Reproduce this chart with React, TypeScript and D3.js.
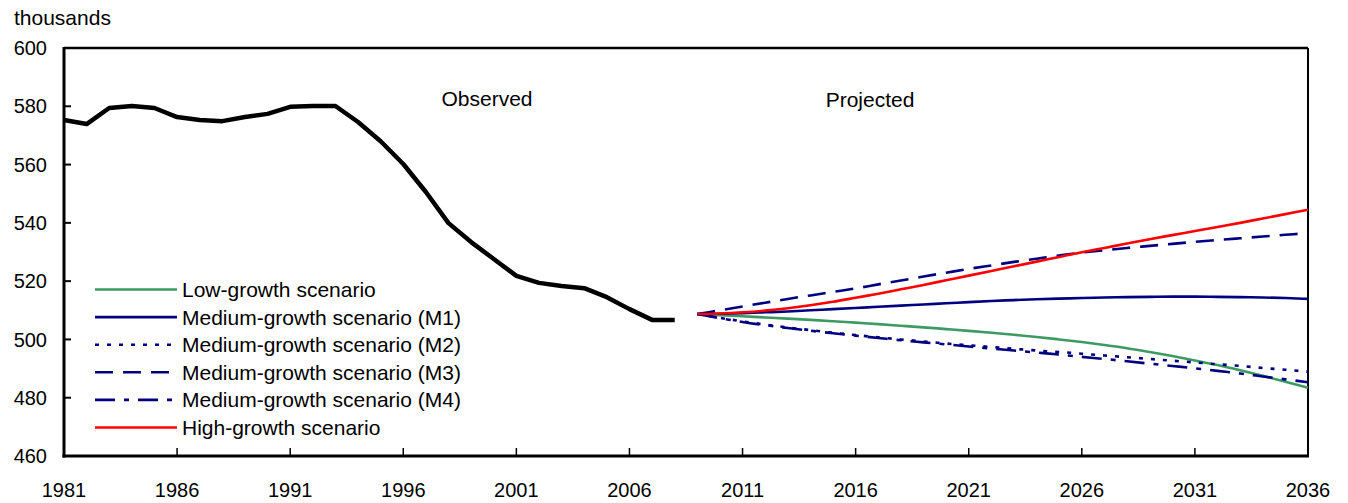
import * as d3 from "d3"

const obsYears = d3.range(1981, 2009)
const observed = [575.3, 573.9, 579.4, 580.1, 579.4, 576.3, 575.3, 574.9, 576.3, 577.4, 579.8, 580.1, 580.1, 574.6, 568.0, 560.2, 550.6, 539.9, 533.4, 527.6, 521.8, 519.4, 518.3, 517.6, 514.5, 510.4, 506.7, 506.7]

const projYears = d3.range(2009, 2037)
const lowGrowth = [508.7, 508.35, 507.95, 507.55, 507.15, 506.7, 506.25, 505.75, 505.25, 504.7, 504.15, 503.55, 502.95, 502.3, 501.6, 500.85, 500.0, 499.1, 498.1, 497.0, 495.7, 494.3, 492.8, 491.2, 489.4, 487.5, 485.5, 483.4]
const mediumM1 = [508.7, 508.8, 509.0, 509.3, 509.6, 510.0, 510.4, 510.8, 511.2, 511.6, 512.0, 512.4, 512.8, 513.2, 513.5, 513.8, 514.0, 514.2, 514.4, 514.5, 514.6, 514.7, 514.7, 514.6, 514.5, 514.4, 514.2, 513.9]
const mediumM2 = [508.7, 507.4, 506.2, 505.1, 504.1, 503.2, 502.3, 501.5, 500.7, 500.0, 499.3, 498.6, 498.0, 497.4, 496.8, 496.2, 495.7, 495.1, 494.5, 493.9, 493.3, 492.7, 492.1, 491.5, 490.9, 490.2, 489.6, 488.9]
const mediumM3 = [508.7, 510.0, 511.3, 512.6, 513.9, 515.1, 516.3, 517.5, 518.9, 520.2, 521.6, 522.9, 524.2, 525.4, 526.6, 527.7, 528.8, 529.8, 530.6, 531.4, 532.1, 532.8, 533.5, 534.1, 534.7, 535.3, 535.9, 536.5]
const mediumM4 = [508.7, 507.3, 506.0, 504.9, 503.9, 503.0, 502.1, 501.3, 500.5, 499.7, 499.0, 498.3, 497.6, 496.9, 496.2, 495.5, 494.8, 494.0, 493.3, 492.5, 491.7, 490.9, 490.1, 489.2, 488.3, 487.3, 486.3, 485.3]
const highGrowth = [508.7, 508.9, 509.3, 509.9, 510.7, 511.7, 512.9, 514.3, 515.7, 517.2, 518.7, 520.3, 521.9, 523.5, 525.1, 526.7, 528.3, 529.9, 531.4, 532.9, 534.4, 535.8, 537.2, 538.6, 540.0, 541.5, 543.0, 544.5]

const xTicks = [1981, 1986, 1991, 1996, 2001, 2006, 2011, 2016, 2021, 2026, 2031, 2036]
const yTicks = [460, 480, 500, 520, 540, 560, 580, 600]

const NAVY = "#000080"
const series = [
    { name: "Low-growth scenario", values: lowGrowth, color: "#3c9a62", dash: "" },
    { name: "Medium-growth scenario (M1)", values: mediumM1, color: NAVY, dash: "" },
    { name: "Medium-growth scenario (M2)", values: mediumM2, color: NAVY, dash: "4,8" },
    { name: "Medium-growth scenario (M3)", values: mediumM3, color: NAVY, dash: "18,10" },
    { name: "Medium-growth scenario (M4)", values: mediumM4, color: NAVY, dash: "20,9,5,9" },
    { name: "High-growth scenario", values: highGrowth, color: "#ff0000", dash: "" },
]

const W = 1348
const H = 503
const m = { left: 64, right: 40, top: 48, bottom: 47 }
const FONT = "'Liberation Sans', Arial, Helvetica, sans-serif"

export default function App() {
    const x = d3.scaleLinear().domain([1981, 2036]).range([m.left, W - m.right])
    const y = d3.scaleLinear().domain([460, 600]).range([H - m.bottom, m.top])
    const line = d3.line<[number, number]>().x((d) => x(d[0])).y((d) => y(d[1]))
    const smooth = d3.line<[number, number]>().x((d) => x(d[0])).y((d) => y(d[1])).curve(d3.curveMonotoneX)

    const obsPath = line(obsYears.map((yr, i) => [yr, observed[i]])) as string

    return (
        <svg width={W} height={H} style={{ position: "absolute", left: 0, top: 0 }} fontFamily={FONT}>
            <rect x={0} y={0} width={W} height={H} fill="white" />
            {/* frame */}
            <line x1={x(1981)} x2={x(2036)} y1={y(600)} y2={y(600)} stroke="black" strokeWidth={2.5} />
            <line x1={x(2036)} x2={x(2036)} y1={y(600)} y2={y(460)} stroke="black" strokeWidth={2} />
            <line x1={x(1981)} x2={x(1981)} y1={y(600) - 1} y2={y(460) + 1.5} stroke="black" strokeWidth={3} />
            <line x1={x(1981) - 1.5} x2={x(2036) + 1} y1={y(460)} y2={y(460)} stroke="black" strokeWidth={3} />

            {yTicks.map((t) => (
                <g key={t}>
                    {t > 460 && t < 600 && (
                        <line x1={x(1981)} x2={x(1981) + 7} y1={y(t)} y2={y(t)} stroke="black" strokeWidth={2} />
                    )}
                    <text x={47} y={y(t)} dy="0.36em" textAnchor="end" fontSize={20}>{t}</text>
                </g>
            ))}
            {xTicks.map((t) => (
                <g key={t}>
                    {t > 1981 && t < 2036 && (
                        <line x1={x(t)} x2={x(t)} y1={y(460)} y2={y(460) - 8} stroke="black" strokeWidth={1.5} />
                    )}
                    <text x={x(t)} y={497} textAnchor="middle" fontSize={20}>{t}</text>
                </g>
            ))}
            <text x={14} y={25} fontSize={21}>thousands</text>

            <text x={487} y={106} textAnchor="middle" fontSize={21}>Observed</text>
            <text x={870} y={107} textAnchor="middle" fontSize={21}>Projected</text>

            <path d={obsPath} fill="none" stroke="black" strokeWidth={4.5} strokeLinejoin="round" />

            {series.map((s) => (
                <path
                    key={s.name}
                    d={smooth(projYears.map((yr, i) => [yr, s.values[i]])) as string}
                    fill="none"
                    stroke={s.color}
                    strokeWidth={2.6}
                    strokeDasharray={s.dash || undefined}
                />
            ))}

            <g>
                {series.map((s, i) => (
                    <g key={s.name} transform={`translate(95, ${289.5 + i * 27.6})`}>
                        <line x1={0} x2={82} y1={0} y2={0} stroke={s.color} strokeWidth={2.6} strokeDasharray={s.dash || undefined} />
                        <text x={87} y={0} dy="0.36em" fontSize={21}>{s.name}</text>
                    </g>
                ))}
            </g>
        </svg>
    )
}
